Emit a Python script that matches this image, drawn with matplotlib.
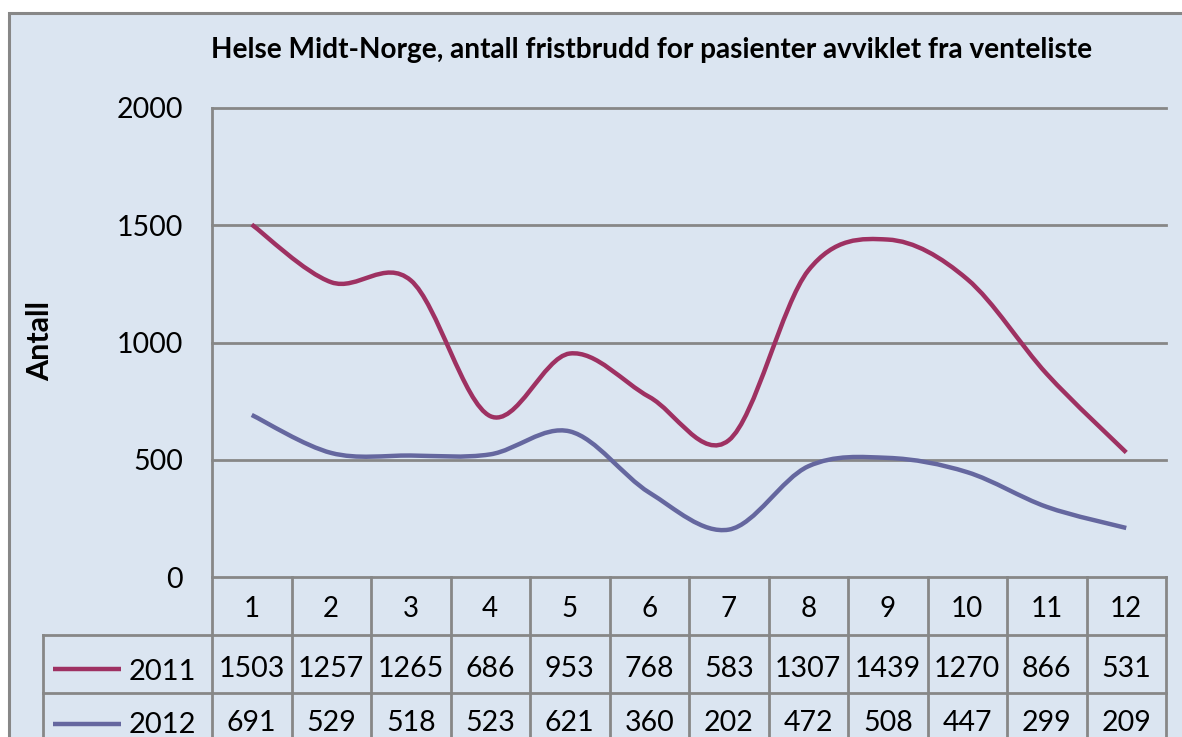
import matplotlib
matplotlib.use("Agg")
import matplotlib.pyplot as plt
from matplotlib.path import Path
from matplotlib.patches import PathPatch, Rectangle
from matplotlib.lines import Line2D
from matplotlib.transforms import blended_transform_factory

# ---------------- data ----------------
months = [1, 2, 3, 4, 5, 6, 7, 8, 9, 10, 11, 12]
month_labels = ["1", "2", "3", "4", "5", "6", "7", "8", "9", "10", "11", "12"]
series_names = ["2011", "2012"]
values_2011 = [1503, 1257, 1265, 686, 953, 768, 583, 1307, 1439, 1270, 866, 531]
values_2012 = [691, 529, 518, 523, 621, 360, 202, 472, 508, 447, 299, 209]
y_ticks = [0, 500, 1000, 1500, 2000]
title = "Helse Midt-Norge, antall fristbrudd for pasienter avviklet fra venteliste"
y_label = "Antall"

# ---------------- style ----------------
BG = "#DBE5F1"
GRID = "#878787"
C2011 = "#9E3162"
C2012 = "#65679F"
FONT = "Lato"
plt.rcParams['font.family'] = [FONT, 'DejaVu Sans']

W, H = 1182, 737
AX_L, AX_R, AX_T, AX_B = 212, 1166, 108, 577
TAB_L = 43
ROW1, ROW2 = 635, 693

fig = plt.figure(figsize=(W / 100, H / 100), dpi=100)
fig.patch.set_facecolor("white")

frame = fig.add_axes([0, 0, 1, 1], zorder=0)
frame.set_xlim(0, W)
frame.set_ylim(H, 0)
frame.axis("off")
frame.add_patch(Rectangle((9, 13), W + 20, H + 20, facecolor=BG,
                          edgecolor=GRID, lw=2.2, clip_on=False))

ax = fig.add_axes([AX_L / W, 1 - AX_B / H, (AX_R - AX_L) / W, (AX_B - AX_T) / H],
                  zorder=1)
ax.patch.set_alpha(0)
ax.set_xlim(0.5, 12.5)
ax.set_ylim(0, 2000)
for s in ["top", "right", "bottom"]:
    ax.spines[s].set_visible(False)
ax.spines["left"].set_color(GRID)
ax.spines["left"].set_linewidth(2)
ax.set_xticks([])
ax.set_yticks(y_ticks)
ax.set_yticklabels([str(t) for t in y_ticks])
ax.tick_params(axis="y", length=0, pad=21, labelsize=20.5)
for t in y_ticks:
    ax.axhline(t, color=GRID, lw=2, clip_on=False, zorder=0.5)


def smooth_path(xs, ys):
    n = len(xs)
    verts = [(xs[0], ys[0])]
    codes = [Path.MOVETO]
    for i in range(n - 1):
        i0 = max(i - 1, 0)
        i3 = min(i + 2, n - 1)
        c1 = (xs[i] + (xs[i + 1] - xs[i0]) / 6.0, ys[i] + (ys[i + 1] - ys[i0]) / 6.0)
        c2 = (xs[i + 1] - (xs[i3] - xs[i]) / 6.0, ys[i + 1] - (ys[i3] - ys[i]) / 6.0)
        verts += [c1, c2, (xs[i + 1], ys[i + 1])]
        codes += [Path.CURVE4] * 3
    return Path(verts, codes)


for vals, col in [(values_2011, C2011), (values_2012, C2012)]:
    ax.add_patch(PathPatch(smooth_path(months, vals), facecolor="none",
                           edgecolor=col, lw=3.2, capstyle="butt", zorder=3))

# title and axis label
frame.text((AX_L + 1092) / 2, 58, title, ha="center", va="baseline",
           fontsize=20.2, fontweight="bold")
frame.text(40, 341, y_label, rotation=90, ha="center", va="center",
           fontsize=22, fontweight="bold")

# ---------------- data table ----------------
bt = blended_transform_factory(ax.transData, frame.transData)
lw_t = 2
for k in range(len(months) + 1):
    xk = months[0] - 0.5 + k
    frame.add_line(Line2D([xk, xk], [AX_B, H + 5], transform=bt, color=GRID,
                          lw=lw_t, clip_on=False))
frame.add_line(Line2D([TAB_L, TAB_L], [ROW1, H + 5], color=GRID, lw=lw_t))
for yy in (ROW1, ROW2):
    frame.add_line(Line2D([TAB_L, AX_R], [yy, yy], color=GRID, lw=lw_t))

for m, lab in zip(months, month_labels):
    frame.text(m, 617, lab, transform=bt, ha="center", va="baseline", fontsize=20)
for m, v in zip(months, values_2011):
    frame.text(m, 677, str(v), transform=bt, ha="center", va="baseline", fontsize=20.5)
for m, v in zip(months, values_2012):
    frame.text(m, 731, str(v), transform=bt, ha="center", va="baseline", fontsize=20.5)

for name, col, yy, base in [(series_names[0], C2011, 669, 680),
                            (series_names[1], C2012, 724, 733)]:
    frame.add_line(Line2D([53, 121], [yy, yy], color=col, lw=3.2,
                          solid_capstyle="butt"))
    frame.text(129, base, name, ha="left", va="baseline", fontsize=21)

fig.savefig("out.png", dpi=100, facecolor="white")
